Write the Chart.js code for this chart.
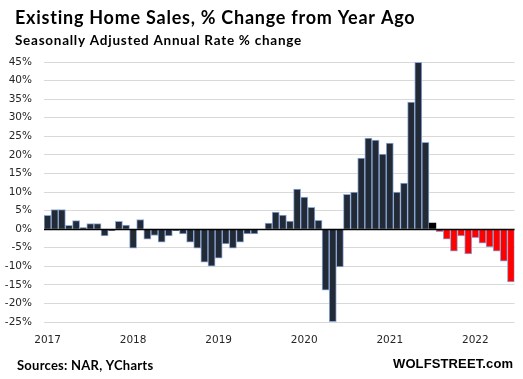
<!DOCTYPE html>
<html>
<head>
<meta charset="utf-8">
<script src="https://cdn.jsdelivr.net/npm/chart.js@4.4.1/dist/chart.umd.min.js"></script>
<style>
  html, body { margin: 0; padding: 0; background: #fff; }
  #wrap { width: 523px; height: 379px; position: relative; }
</style>
</head>
<body>
<div id="wrap"><canvas id="c" width="523" height="379"></canvas></div>
<script>
const titleText = "Existing Home Sales, % Change from Year Ago";
const subtitleText = "Seasonally Adjusted Annual Rate % change";
const sourceText = "Sources: NAR, YCharts";
const brandText = "WOLFSTREET.com";

const years = ["2017", "2018", "2019", "2020", "2021", "2022"];
const months = ["01","02","03","04","05","06","07","08","09","10","11","12"];
const categories = [];
years.forEach(y => months.forEach(m => { if (!(y === "2022" && +m > 6)) categories.push(y + "-" + m); }));

const yoyChange = [
  3.7, 5.3, 5.3, 1.0, 2.3, 0.4, 1.5, 1.5, -1.8, -0.4, 2.1, 1.1,
  -5.1, 2.6, -2.7, -1.7, -3.5, -1.8, -0.4, -1.3, -3.5, -5.1, -8.9, -10.0,
  -7.8, -4.0, -5.1, -3.5, -1.3, -1.3, 0.0, 1.6, 4.6, 3.8, 2.2, 10.8,
  8.6, 5.9, 2.4, -16.4, -24.9, -10.2, 9.4, 10.0, 19.1, 24.5, 24.0, 20.2,
  23.2, 10.0, 12.4, 34.2, 44.9, 23.4, 1.7, -0.7, -2.7, -5.9, -1.8, -6.7,
  -2.3, -3.8, -4.8, -5.9, -8.6, -14.2
];

const yTicks = [-25, -20, -15, -10, -5, 0, 5, 10, 15, 20, 25, 30, 35, 40, 45];

const NAVY = "#222a35", EDGE = "#8eaadb", RED = "#ff0000", BLACK = "#000000";
const fills = categories.map(c => c === "2021-07" ? BLACK : (c > "2021-07" ? RED : NAVY));
const edges = categories.map(c => c === "2021-07" ? BLACK : EDGE);

const textPlugin = {
  id: "texts",
  afterDraw(chart) {
    const ctx = chart.ctx;
    const items = [
      { t: titleText, x: 15, y: 24, w: 400, font: "bold 18px Lato", c: "#000" },
      { t: subtitleText, x: 15, y: 45, w: 286, font: "bold 13.5px Lato", c: "#000" },
      { t: sourceText, x: 17, y: 370, w: 136, font: "bold 13px Lato", c: "#000" },
      { t: brandText, x: 393, y: 368, w: 120, font: "bold 13px 'Liberation Sans'", c: "#000" }
    ];
    ctx.save();
    ctx.textBaseline = "alphabetic";
    ctx.textAlign = "left";
    items.forEach(it => {
      ctx.font = it.font;
      ctx.fillStyle = it.c;
      ctx.letterSpacing = "0px";
      const m = ctx.measureText(it.t).width;
      if (m < it.w && "letterSpacing" in ctx) {
        ctx.letterSpacing = ((it.w - m) / (it.t.length - 1)).toFixed(2) + "px";
        ctx.fillText(it.t, it.x, it.y);
      } else {
        ctx.fillText(it.t, it.x, it.y, it.w);
      }
    });
    ctx.restore();
  }
};

const zeroLine = {
  id: "zeroLine",
  afterDatasetsDraw(chart) {
    const { ctx, chartArea, scales } = chart;
    const y = Math.round(scales.y.getPixelForValue(0)) + 0.5;
    ctx.save();
    ctx.strokeStyle = "#000";
    ctx.lineWidth = 1.5;
    ctx.beginPath();
    ctx.moveTo(chartArea.left, y);
    ctx.lineTo(chartArea.right, y);
    ctx.stroke();
    ctx.restore();
  }
};

new Chart(document.getElementById("c"), {
  type: "bar",
  data: {
    labels: categories,
    datasets: [{
      data: yoyChange,
      backgroundColor: fills,
      borderColor: edges,
      borderWidth: 1,
      barPercentage: 1.0,
      categoryPercentage: 1.0
    }]
  },
  options: {
    responsive: false,
    animation: false,
    devicePixelRatio: 1,
    layout: { padding: { top: 62, right: 2, left: 0, bottom: 0 } },
    plugins: { legend: { display: false }, tooltip: { enabled: false }, title: { display: false } },
    scales: {
      x: {
        offset: true,
        grid: { display: false, drawTicks: false },
        border: { display: false },
        ticks: {
          autoSkip: false,
          maxRotation: 0,
          padding: 12,
          color: "#262626",
          font: { family: "DejaVu Sans", size: 10.5 },
          callback: function (v, i) {
            const c = categories[i];
            return c.endsWith("-01") ? c.slice(0, 4) : "";
          }
        },
        afterFit(scale) { scale.height = 57; }
      },
      y: {
        min: -25, max: 45,
        afterBuildTicks(scale) { scale.ticks = yTicks.map(v => ({ value: v })); },
        grid: { color: "#d9d9d9", lineWidth: 1, drawTicks: false },
        border: { display: false },
        ticks: {
          padding: 12,
          color: "#262626",
          font: { family: "DejaVu Sans", size: 10.5 },
          callback: v => v + "%"
        },
        afterFit(scale) { scale.width = 44; }
      }
    }
  },
  plugins: [textPlugin, zeroLine]
});
</script>
</body>
</html>
